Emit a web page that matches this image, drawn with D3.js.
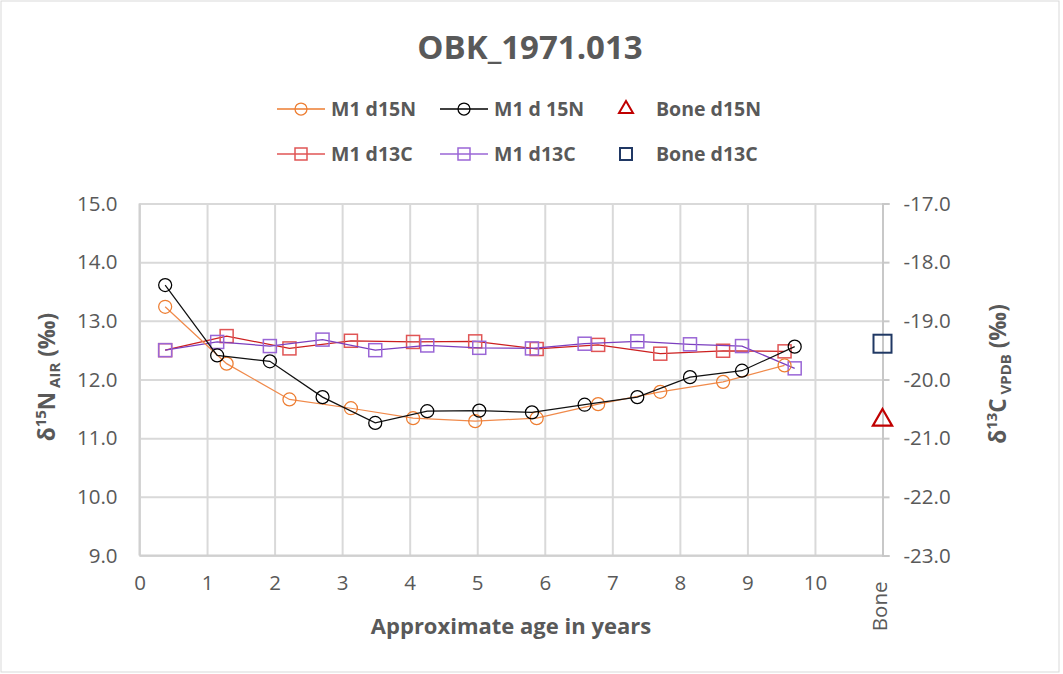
<!DOCTYPE html>
<html>
  <head>
    <meta charset="UTF-8">
    <title>OBK_1971.013</title>
    <script src="https://cdn.jsdelivr.net/npm/d3@7"></script>
    <style>
      body { margin: 0; background: #fff; }
      svg { font-family: "Open Sans", "DejaVu Sans", sans-serif; }
      .tick text { fill: #595959; font-size: 20.5px; font-family: "Open Sans", "DejaVu Sans", sans-serif; }
    </style>
  </head>
  <body>
    <svg width="1063" height="674"></svg>
  </body>
  <script>

    // M1 sample set 1 (orange N, red C) - ages in years
    var ageA = [0.38, 1.29, 2.22, 3.13, 4.05, 4.97, 5.88, 6.79, 7.71, 8.64, 9.55];
    var d15nA = [13.24, 12.27, 11.66, 11.51, 11.34, 11.29, 11.34, 11.58, 11.79, 11.96, 12.24];
    var d13cA = [-19.50, -19.26, -19.47, -19.34, -19.36, -19.35, -19.48, -19.41, -19.56, -19.51, -19.52];

    // M1 sample set 2 (black N, purple C)
    var ageB = [0.38, 1.15, 1.93, 2.71, 3.49, 4.26, 5.03, 5.81, 6.59, 7.37, 8.15, 8.92, 9.70];
    var d15nB = [13.61, 12.41, 12.31, 11.70, 11.26, 11.46, 11.47, 11.44, 11.57, 11.70, 12.04, 12.15, 12.56];
    var d13cB = [-19.50, -19.36, -19.43, -19.32, -19.50, -19.42, -19.46, -19.47, -19.39, -19.35, -19.40, -19.43, -19.81];

    // bone sits on the last category slot
    var bonePos = 11;
    var boneN = 11.29;
    var boneC = -19.39;

    var xTicks = [0, 1, 2, 3, 4, 5, 6, 7, 8, 9, 10, 11];
    var xTickLabels = ["0", "1", "2", "3", "4", "5", "6", "7", "8", "9", "10", "Bone"];
    var leftTicks = [9, 10, 11, 12, 13, 14, 15];
    var rightTicks = [-23, -22, -21, -20, -19, -18, -17];

    var textCol = "#595959", gridCol = "#d9d9d9";

    var svg = d3.select("svg");

    // outer frame
    svg.append("rect")
      .attr("x", 1).attr("y", 1).attr("width", 1058).attr("height", 671)
      .attr("fill", "#fff").attr("stroke", gridCol).attr("stroke-width", 1);

    var pLeft = 139.5, pRight = 882.5, pTop = 203.5, pBottom = 555.5;

    var x = d3.scaleLinear().domain([0, 11]).range([pLeft, pRight]);
    var yN = d3.scaleLinear().domain([9, 15]).range([pBottom, pTop]);
    var yC = d3.scaleLinear().domain([-23, -17]).range([pBottom, pTop]);

    // gridlines
    svg.append("g")
      .attr("transform", "translate(0," + pBottom + ")")
      .call(d3.axisBottom(x).tickValues(xTicks).tickSize(-(pBottom - pTop)).tickFormat(""))
      .call(function(g) { g.select(".domain").remove(); })
      .selectAll("line").attr("stroke", gridCol).attr("stroke-width", 2);

    svg.append("g")
      .attr("transform", "translate(" + pLeft + ",0)")
      .call(d3.axisLeft(yN).tickValues(leftTicks).tickSize(-(pRight - pLeft)).tickFormat(""))
      .call(function(g) { g.select(".domain").remove(); })
      .selectAll("line").attr("stroke", gridCol).attr("stroke-width", 2);

    // axis lines
    svg.append("line").attr("x1", pLeft).attr("x2", pLeft).attr("y1", pTop).attr("y2", pBottom)
      .attr("stroke", "#d0d0d0").attr("stroke-width", 2);
    svg.append("line").attr("x1", pLeft).attr("x2", pRight).attr("y1", pBottom).attr("y2", pBottom)
      .attr("stroke", "#d0d0d0").attr("stroke-width", 2);

    // left axis labels
    var gl = svg.append("g")
      .attr("transform", "translate(" + pLeft + ",0)")
      .call(d3.axisLeft(yN).tickValues(leftTicks).tickSize(0).tickPadding(22).tickFormat(d3.format(".1f")));
    gl.select(".domain").remove();

    // right axis with outward ticks
    var gr = svg.append("g")
      .attr("transform", "translate(" + pRight + ",0)")
      .call(d3.axisRight(yC).tickValues(rightTicks).tickSizeOuter(0).tickSize(7).tickPadding(14));
    gr.select(".domain").attr("stroke", "#c8c8c8").attr("stroke-width", 2);
    gr.selectAll(".tick line").attr("stroke", "#c8c8c8").attr("stroke-width", 2);
    gr.selectAll(".tick text").text(function(d) { return d3.format(".1f")(d).replace("\u2212", "-"); });

    // bottom labels
    var gb = svg.append("g")
      .attr("transform", "translate(0," + pBottom + ")")
      .call(d3.axisBottom(x).tickValues(xTicks).tickSize(0).tickPadding(20)
        .tickFormat(function(d, i) { return xTickLabels[i]; }));
    gb.select(".domain").remove();
    gb.selectAll(".tick").filter(function(d) { return d === bonePos; }).select("text")
      .attr("transform", "rotate(-90)")
      .attr("x", -26).attr("y", -3).attr("dy", "0.35em")
      .attr("text-anchor", "end");

    function series(ages, vals, yScale, lineCol, markCol, shape) {
      var pts = ages.map(function(a, i) { return [x(a), yScale(vals[i])]; });
      svg.append("path")
        .attr("d", d3.line()(pts))
        .attr("fill", "none").attr("stroke", lineCol).attr("stroke-width", 1.25);
      var g = svg.append("g");
      if (shape === "circle") {
        g.selectAll("circle").data(pts).enter().append("circle")
          .attr("cx", function(d) { return d[0]; }).attr("cy", function(d) { return d[1]; })
          .attr("r", 6.5).attr("fill", "none").attr("stroke", markCol).attr("stroke-width", 1.25);
      } else {
        g.selectAll("rect").data(pts).enter().append("rect")
          .attr("x", function(d) { return d[0] - 6.5; }).attr("y", function(d) { return d[1] - 6.5; })
          .attr("width", 13).attr("height", 13)
          .attr("fill", "none").attr("stroke", markCol).attr("stroke-width", 1.5);
      }
    }

    series(ageA, d13cA, yC, "#cc1f1f", "#e05555", "square");
    series(ageB, d13cB, yC, "#7b3fbf", "#9a66d6", "square");
    series(ageA, d15nA, yN, "#f08a4b", "#ed7d31", "circle");
    series(ageB, d15nB, yN, "#111", "#000", "circle");

    // bone points
    var tri = d3.symbol().type(d3.symbolTriangle).size(160);
    svg.append("path").attr("d", tri())
      .attr("transform", "translate(" + x(bonePos) + "," + (yN(boneN) - 1) + ")")
      .attr("fill", "none").attr("stroke", "#c00000").attr("stroke-width", 2.2);
    svg.append("rect")
      .attr("x", x(bonePos) - 9).attr("y", yC(boneC) - 9).attr("width", 18).attr("height", 18)
      .attr("fill", "none").attr("stroke", "#203864").attr("stroke-width", 2);

    // title
    svg.append("text").attr("x", 530).attr("y", 59).attr("text-anchor", "middle")
      .attr("font-size", 33).attr("font-weight", "bold").attr("fill", textCol)
      .text("OBK_1971.013");

    // legend
    var legend = [
      { name: "M1 d15N", col: "#ed7d31", line: true, shape: "circle", lx: 277, ly: 109 },
      { name: "M1 d 15N", col: "#000", line: true, shape: "circle", lx: 440, ly: 109 },
      { name: "Bone d15N", col: "#c00000", line: false, shape: "triangle", lx: 626, ly: 109 },
      { name: "M1 d13C", col: "#e05555", line: true, shape: "square", lx: 277, ly: 154 },
      { name: "M1 d13C", col: "#9a66d6", line: true, shape: "square", lx: 440, ly: 154 },
      { name: "Bone d13C", col: "#203864", line: false, shape: "square", lx: 626, ly: 154 }
    ];
    legend.forEach(function(d) {
      var g = svg.append("g");
      var mx = d.line ? d.lx + 24 : d.lx;
      var tx = d.line ? d.lx + 54 : d.lx + 30;
      if (d.line) {
        g.append("line").attr("x1", d.lx).attr("x2", d.lx + 48).attr("y1", d.ly).attr("y2", d.ly)
          .attr("stroke", d.col).attr("stroke-width", 1.5);
      }
      if (d.shape === "circle") {
        g.append("circle").attr("cx", mx).attr("cy", d.ly).attr("r", 6)
          .attr("fill", "none").attr("stroke", d.col).attr("stroke-width", 1.25);
      } else if (d.shape === "square") {
        g.append("rect").attr("x", mx - 6).attr("y", d.ly - 6).attr("width", 12).attr("height", 12)
          .attr("fill", "none").attr("stroke", d.col).attr("stroke-width", d.line ? 1.5 : 2);
      } else {
        g.append("path").attr("d", d3.symbol().type(d3.symbolTriangle).size(85)())
          .attr("transform", "translate(" + mx + "," + d.ly + ")")
          .attr("fill", "none").attr("stroke", d.col).attr("stroke-width", 2);
      }
      g.append("text").attr("x", tx).attr("y", d.ly).attr("dy", "0.36em")
        .attr("font-size", 19.5).attr("font-weight", "bold").attr("fill", textCol)
        .text(d.name);
    });

    // axis titles
    function axisTitle(cx, cy, sup, letter, sub) {
      var t = svg.append("text")
        .attr("transform", "translate(" + cx + "," + cy + ") rotate(-90)")
        .attr("text-anchor", "middle").attr("font-weight", "bold")
        .attr("font-size", 22.5).attr("fill", textCol);
      t.append("tspan").text("\u03b4");
      t.append("tspan").attr("font-size", 15).attr("dy", -9).text(sup);
      t.append("tspan").attr("dy", 9).text(letter);
      t.append("tspan").attr("font-size", 15).attr("dy", 5).text(" " + sub);
      t.append("tspan").attr("dy", -5).text(" (\u2030)");
    }
    axisTitle(55, 377, "15", "N", "AIR");
    axisTitle(1006, 374, "13", "C", "VPDB");

    svg.append("text").attr("x", 511).attr("y", 634).attr("text-anchor", "middle")
      .attr("font-size", 22).attr("font-weight", "bold").attr("fill", textCol)
      .text("Approximate age in years");

  </script>
</html>
